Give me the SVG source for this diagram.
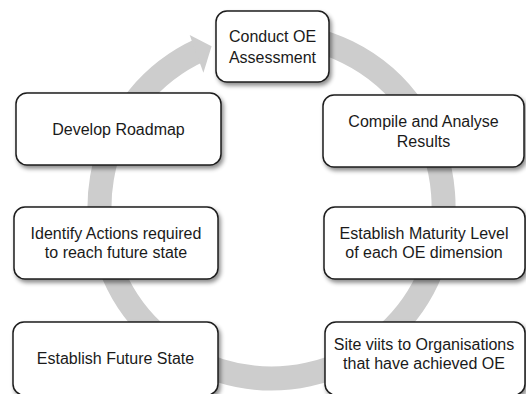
<svg xmlns="http://www.w3.org/2000/svg" width="526" height="394" viewBox="0 0 526 394">
  <defs>
    <filter id="shadow" x="-10%" y="-10%" width="125%" height="135%">
      <feDropShadow dx="2" dy="3" stdDeviation="2.2" flood-color="#000" flood-opacity="0.45"/>
    </filter>
  </defs>
  <style>
    .box { fill: #ffffff; stroke: #1e1e1e; stroke-width: 1.5; filter: url(#shadow); }
    .lbl { font-family: "Liberation Sans", Arial, sans-serif; font-size: 16px; fill: #1a1a1a; text-anchor: middle; }
    .ring { fill: none; stroke: #cdcdcd; stroke-width: 24; }
    .head { fill: #cdcdcd; }
  </style>
  <rect width="526" height="394" fill="#ffffff"/>
  <g id="connectors">
    <path class="ring" d="M 271.5 34.5 A 172 172 0 1 1 200.2 50.0"/>
    <polygon class="head" points="189.7,35.0 211.6,46.3 203.4,72.8"/>
  </g>
  <g id="node-conduct">
    <rect class="box" x="216" y="11" width="113" height="71" rx="11"/>
    <text class="lbl" x="272.5" y="41.5">Conduct OE</text>
    <text class="lbl" x="272.5" y="63">Assessment</text>
  </g>
  <g id="node-compile">
    <rect class="box" x="323" y="95" width="201" height="72" rx="11"/>
    <text class="lbl" x="423.5" y="127">Compile and Analyse</text>
    <text class="lbl" x="423.5" y="146.5">Results</text>
  </g>
  <g id="node-maturity">
    <rect class="box" x="324" y="207" width="201" height="72" rx="11"/>
    <text class="lbl" x="424" y="238.5">Establish Maturity Level</text>
    <text class="lbl" x="424" y="257.5">of each OE dimension</text>
  </g>
  <g id="node-site">
    <rect class="box" x="325" y="322" width="200" height="73" rx="11"/>
    <text class="lbl" x="424" y="349.5">Site viits to Organisations</text>
    <text class="lbl" x="424" y="368.5">that have achieved OE</text>
  </g>
  <g id="node-future">
    <rect class="box" x="13" y="322" width="205" height="73" rx="11"/>
    <text class="lbl" x="115.5" y="363.5">Establish Future State</text>
  </g>
  <g id="node-identify">
    <rect class="box" x="14" y="207" width="204" height="72" rx="11"/>
    <text class="lbl" x="116" y="238.5">Identify Actions required</text>
    <text class="lbl" x="116" y="257.5">to reach future state</text>
  </g>
  <g id="node-roadmap">
    <rect class="box" x="16" y="93" width="205" height="72" rx="11"/>
    <text class="lbl" x="118.5" y="135">Develop Roadmap</text>
  </g>
</svg>
